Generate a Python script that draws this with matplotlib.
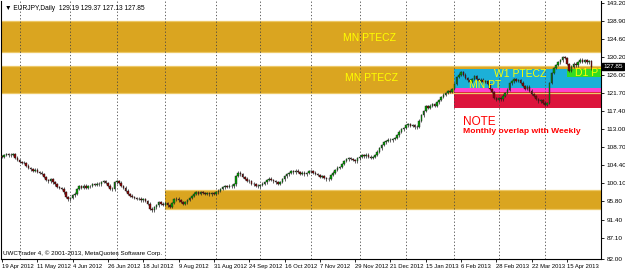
import matplotlib
matplotlib.use("Agg")
import matplotlib.pyplot as plt
from matplotlib.patches import Rectangle
from matplotlib.transforms import blended_transform_factory
import pandas as pd

# ----------------------------
# Daily closes, EURJPY
# ----------------------------
closes = [
    106.4, 106.8, 107.0, 106.7, 106.9, 107.1, 106.2, 105.6, 105.2, 105.0,
    104.9, 104.3, 103.7, 103.4, 103.1, 103.3, 102.8, 102.6, 102.3, 101.6,
    100.9, 100.5, 101.0, 100.3, 99.8, 99.2, 98.9, 98.8, 97.9, 96.8,
    96.2, 96.6, 97.2, 97.6, 98.7, 99.3, 98.9, 99.5, 99.0, 99.3,
    99.4, 99.8, 99.6, 100.0, 99.8, 100.4, 100.6, 100.1, 99.5, 98.8,
    98.6, 100.3, 100.6, 100.2, 99.4, 99.0, 98.3, 97.5, 97.1, 96.8,
    96.6, 96.3, 96.4, 96.0, 96.2, 95.8, 95.2, 94.0, 93.6, 94.3,
    94.8, 95.6, 95.2, 95.0, 95.3, 94.8, 94.4, 95.4, 96.2, 96.4,
    96.0, 95.6, 95.2, 95.5, 96.1, 96.6, 97.0, 97.6, 97.9, 97.6,
    97.9, 97.7, 97.5, 97.8, 97.4, 97.7, 97.6, 97.9, 98.3, 98.7,
    99.1, 99.4, 99.2, 99.5, 99.3, 99.8, 101.8, 102.6, 102.2, 101.6,
    101.2, 100.7, 100.5, 100.0, 99.8, 99.5, 99.3, 99.7, 100.0, 100.3,
    100.8, 101.2, 100.9, 100.5, 100.3, 99.9, 100.4, 101.0, 101.7, 102.2,
    102.5, 103.0, 102.7, 103.1, 102.8, 102.4, 102.6, 102.2, 102.5, 102.9,
    102.9, 102.6, 102.3, 102.0, 101.6, 101.8, 101.3, 101.0, 101.2, 102.0,
    102.6, 103.2, 103.8, 104.0, 104.7, 105.4, 105.8, 106.1, 105.9, 105.6,
    105.3, 106.0, 106.4, 106.7, 106.5, 106.9, 106.4, 106.1, 106.3, 106.8,
    107.6, 108.4, 109.2, 109.8, 110.2, 110.5, 110.3, 110.6, 110.9, 111.5,
    112.4, 112.9, 113.3, 113.9, 114.1, 113.7, 113.9, 113.4, 113.6, 115.0,
    116.3, 117.3, 118.4, 118.1, 118.6, 118.9, 118.5, 119.4, 119.9, 120.6,
    121.2, 121.6, 122.1, 121.9, 122.6, 123.8, 125.4, 126.0, 126.6, 126.0,
    125.2, 124.6, 124.2, 125.0, 125.6, 125.0, 124.5, 124.8, 124.2, 124.5,
    123.8, 122.6, 121.8, 120.4, 119.9, 120.3, 120.1, 121.0, 121.6, 122.4,
    123.9, 124.4, 124.9, 124.5, 124.7, 124.1, 123.3, 122.6, 123.1, 122.2,
    121.4, 120.9, 120.2, 119.6, 119.9, 119.3, 118.8, 119.2, 124.0, 126.4,
    127.6, 128.3, 128.9, 129.4, 130.2, 130.0, 128.5, 126.8, 127.9, 128.6,
    128.2, 129.0, 129.6, 129.1, 129.4, 128.9, 129.19, 127.85,
]
first_open = 106.6
wick = 0.3
last_ohlc = [129.19, 129.37, 127.13, 127.85]

# trading days (no bar on 1 Jan)
bday = pd.offsets.CustomBusinessDay(holidays=["2013-01-01"])
dates = pd.date_range("2012-04-19", periods=len(closes), freq=bday)

# ----------------------------
# Zones drawn on the chart
# ----------------------------
zone_start = ["2012-04-19", "2012-04-19", "2012-08-01", "2013-02-01",
              "2013-02-01", "2013-02-01", "2013-04-15"]
zone_low = [131.5, 121.6, 93.9, 122.9, 121.8, 118.0, 125.4]
zone_high = [138.9, 128.0, 98.5, 127.3, 122.9, 121.8, 127.3]
zone_colors = ["#DAA520", "#DAA520", "#DAA520", "#1CB0D8",
               "#FF44CC", "#DC143C", "#33DD22"]

price_ticks = [143.20, 138.90, 134.60, 130.20, 126.00, 121.70, 117.40, 113.00,
               108.70, 104.40, 100.10, 95.80, 91.40, 87.10, 82.00]

SMALL = ["Liberation Sans Narrow", "Liberation Sans", "DejaVu Sans"]

# ----------------------------
# Layout, 625 x 271 px
# ----------------------------
fig = plt.figure(figsize=(6.25, 2.71), dpi=100)
fig.patch.set_facecolor("white")
ax = fig.add_axes([1 / 625, 12 / 271, 600 / 625, 258 / 271])
ax.set_xlim(-0.45, 271.4)
ax.set_ylim(82.0, 143.56)

# zones
for k in range(len(zone_low)):
    x0 = dates.get_loc(pd.Timestamp(zone_start[k]))
    if x0 == 0:
        x0 = -1
    ax.add_patch(Rectangle((x0, zone_low[k]), 280 - x0,
                           zone_high[k] - zone_low[k],
                           facecolor=zone_colors[k], edgecolor="none", zorder=1))
    if zone_colors[k] == "#DAA520":
        for yy in (zone_low[k], zone_high[k]):
            ax.plot([x0, 280], [yy, yy], color="#EDC867", lw=0.9, zorder=1.1)

# month grid
month_idx = [i for i in range(1, len(dates)) if dates[i].month != dates[i - 1].month]
for i in month_idx:
    ax.axvline(i, color="#444444", lw=0.6, ls=(0, (1.5, 2.5)), zorder=2)

# candles
opens = [first_open] + closes[:-1]
opens[-1] = last_ohlc[0]
for i in range(len(closes)):
    o, c = opens[i], closes[i]
    hi = max(o, c) + wick
    lo = min(o, c) - wick
    if i == len(closes) - 1:
        hi, lo = last_ohlc[1], last_ohlc[2]
    ax.vlines(i, lo, hi, color="#222222", lw=0.5, zorder=3)
    col = "#00A000" if c >= o else "#8B0000"
    h = abs(c - o) if abs(c - o) > 0.08 else 0.08
    ax.add_patch(Rectangle((i - 0.35, min(o, c)), 0.7, h,
                           facecolor=col, edgecolor="#222222", lw=0.3, zorder=3.5))

# zone labels
ax.text(166.7, 134.7, "MN PTECZ", color="#FFFF00", fontsize=7.5,
        ha="center", va="center", family=["Liberation Sans"], zorder=5)
ax.text(167.6, 125.2, "MN PTECZ", color="#FFFF00", fontsize=7.5,
        ha="center", va="center", family=["Liberation Sans"], zorder=5)
ax.text(234.7, 126.1, "W1 PTECZ", color="#FFFF00", fontsize=7.5,
        ha="center", va="center", family=["Liberation Sans"], zorder=5)
ax.text(218.8, 123.4, "MN PT", color="#FFFF00", fontsize=7.5,
        ha="center", va="center", family=["Liberation Sans"], zorder=5)
ax.text(266.4, 126.4, "D1 PT", color="#FFFF00", fontsize=7.5,
        ha="center", va="center", family=["Liberation Sans"], zorder=5,
        clip_on=True)
ax.text(208.9, 114.8, "NOTE", color="#FF0000", fontsize=8.5,
        ha="left", va="center", family=SMALL, zorder=5)
ax.text(208.9, 112.4, "Monthly overlap with Weekly", color="#FF0000",
        fontsize=6.1, fontweight="bold", ha="left", va="center",
        family=SMALL, zorder=5)

# header / footer text
ax.text(0.006, 0.985, "\u25bc EURJPY,Daily  129.19 129.37 127.13 127.85",
        transform=ax.transAxes, fontsize=4.8, ha="left", va="top",
        family=SMALL, color="black")
ax.text(0.003, 0.012, "UWCTrader 4, \u00a9 2001-2013, MetaQuotes Software Corp.",
        transform=ax.transAxes, fontsize=4.5, ha="left", va="bottom",
        family=SMALL, color="black")

# axes styling
ax.spines["top"].set_visible(False)
for side in ["left", "right", "bottom"]:
    ax.spines[side].set_linewidth(0.8)
ax.yaxis.tick_right()
ax.set_yticks(price_ticks)
ax.set_yticklabels([f"{p:.2f}" for p in price_ticks], family=SMALL, fontsize=4.6)
ax.tick_params(axis="y", length=2, width=0.6, pad=2)

tick_idx = list(range(0, len(dates), 16))
ax.set_xticks(tick_idx)
ax.set_xticklabels([f"{dates[i].day} {dates[i]:%b %Y}" for i in tick_idx],
                   family=SMALL, fontsize=4.2, ha="left")
ax.tick_params(axis="x", length=2.5, width=0.6, pad=1)

# current price tag
tr = blended_transform_factory(ax.transAxes, ax.transData)
ax.text(1.004, last_ohlc[3], f"{last_ohlc[3]:.2f}", transform=tr,
        fontsize=4.6, family=SMALL, color="white", ha="left", va="center",
        bbox=dict(boxstyle="square,pad=0.15", fc="black", ec="black"),
        zorder=6, clip_on=False)

fig.savefig("out.png", dpi=100)
